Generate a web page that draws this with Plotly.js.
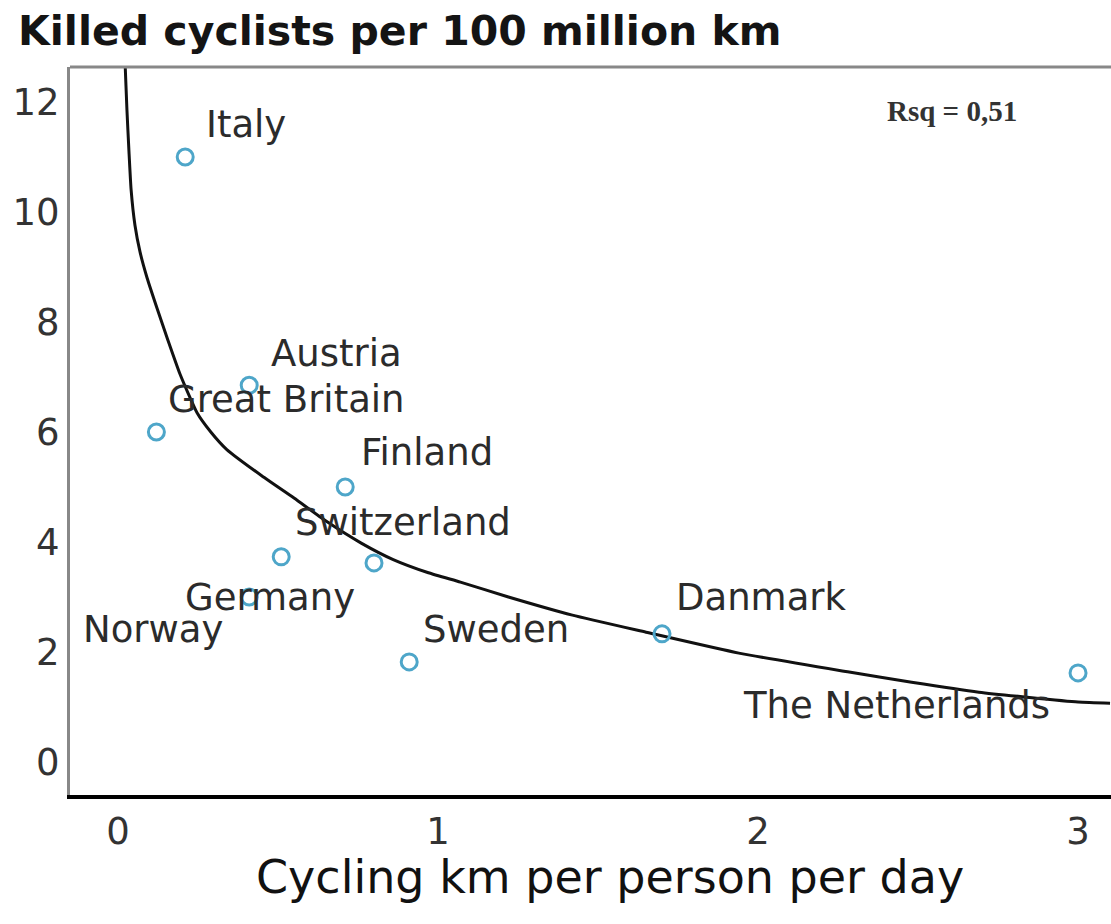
<!DOCTYPE html>
<html>
<head>
<meta charset="utf-8">
<script src="https://cdn.plot.ly/plotly-3.0.1.min.js"></script>
<style>html,body{margin:0;padding:0;background:#fff;}#chart{width:1111px;height:924px;}</style>
</head>
<body>
<div id="chart"></div>
<script>
// Data
const countries = ['Italy', 'Austria', 'Great Britain', 'Finland', 'Switzerland', 'Germany', 'Norway', 'Sweden', 'Danmark', 'The Netherlands'];
const kmPerDay = [0.21, 0.41, 0.12, 0.71, 0.51, 0.80, 0.41, 0.91, 1.70, 3.00];
const killedPer100M = [11.0, 6.85, 6.0, 5.0, 3.73, 3.62, 3.0, 1.82, 2.33, 1.62];

// Fitted curve
const fitX = [0.018, 0.022, 0.028, 0.034, 0.041, 0.053, 0.069, 0.091, 0.122, 0.156, 0.194, 0.247, 0.29, 0.34, 0.45, 0.55, 0.65, 0.76, 0.86, 0.97, 1.07, 1.22, 1.42, 1.65, 1.94, 2.28, 2.48, 2.69, 3.0, 3.1];
const fitY = [13.4, 12.73, 11.85, 11.13, 10.4, 9.76, 9.27, 8.8, 8.25, 7.67, 7.05, 6.35, 6.0, 5.68, 5.2, 4.8, 4.38, 3.98, 3.68, 3.44, 3.27, 3.0, 2.67, 2.36, 1.98, 1.64, 1.45, 1.27, 1.09, 1.07];

const xTickVals = [0, 1, 2, 3];
const yTickVals = [0, 2, 4, 6, 8, 10, 12];

const titleText = 'Killed cyclists per 100 million km';
const xTitleText = 'Cycling km per person per day';
const rsqText = 'Rsq = 0,51';

// Label placement offsets (pixels) – styling only
const labelDx = [19, 20, 10, 14, 12, -191, -168, 12, 12, -337];
const labelDy = [-32, -32, -32, -34, -34, 35, 33, -32, -36, 33];

const font = 'DejaVu Sans, Verdana, sans-serif';

const traces = [
  {
    x: fitX, y: fitY, type: 'scatter', mode: 'lines',
    line: {color: '#111', width: 3, shape: 'spline', smoothing: 0.5},
    hoverinfo: 'skip', showlegend: false
  },
  {
    x: kmPerDay, y: killedPer100M, type: 'scatter', mode: 'markers',
    text: countries,
    marker: {symbol: 'circle-open', size: 16, color: '#4ea6c9', line: {width: 3, color: '#4ea6c9'}},
    showlegend: false
  }
];

const annotations = countries.map((c, i) => ({
  x: kmPerDay[i], y: killedPer100M[i], xref: 'x', yref: 'y',
  text: c, showarrow: false, xanchor: 'left', yanchor: 'middle',
  xshift: labelDx[i], yshift: -labelDy[i],
  font: {family: font, size: 37, color: '#2b2b2b'}
}));

annotations.push({
  x: 0.783, y: 0.94, xref: 'paper', yref: 'paper', xanchor: 'left', yanchor: 'middle',
  text: rsqText, showarrow: false,
  font: {family: 'Liberation Serif, Times New Roman, serif', size: 29, color: '#333', weight: 'bold'}
});

annotations.push({
  x: 0.519, y: -0.112, xref: 'paper', yref: 'paper', xanchor: 'center', yanchor: 'middle',
  text: xTitleText, showarrow: false,
  font: {family: font, size: 46, color: '#111'}
});

const layout = {
  width: 1111, height: 924,
  margin: {l: 70, r: 0, t: 67, b: 129, pad: 0},
  paper_bgcolor: '#fff', plot_bgcolor: '#fff',
  title: {
    text: '<b>' + titleText + '</b>',
    x: 18 / 1111, xref: 'container', xanchor: 'left',
    y: 1 - 31 / 924, yref: 'container', yanchor: 'middle',
    font: {family: font, size: 41, color: '#141414'}
  },
  xaxis: {
    range: [-0.15, 3.103], tickvals: xTickVals, ticktext: xTickVals.map(String),
    showgrid: false, zeroline: false, showline: true, linecolor: '#000', linewidth: 4,
    ticks: '', ticklabelstandoff: 1,
    tickfont: {family: font, size: 37, color: '#333'}, fixedrange: true
  },
  yaxis: {
    range: [-0.6, 12.636], tickvals: yTickVals, ticktext: yTickVals.map(String),
    showgrid: false, zeroline: false, showline: true, linecolor: '#888', linewidth: 3,
    ticks: '', ticklabelstandoff: 0,
    tickfont: {family: font, size: 37, color: '#333'}, fixedrange: true
  },
  shapes: [{
    type: 'line', xref: 'paper', yref: 'paper', x0: 0, x1: 1, y0: 1, y1: 1,
    line: {color: '#888', width: 3}
  }],
  annotations: annotations
};

Plotly.newPlot('chart', traces, layout, {displayModeBar: false, staticPlot: true});
</script>
</body>
</html>
